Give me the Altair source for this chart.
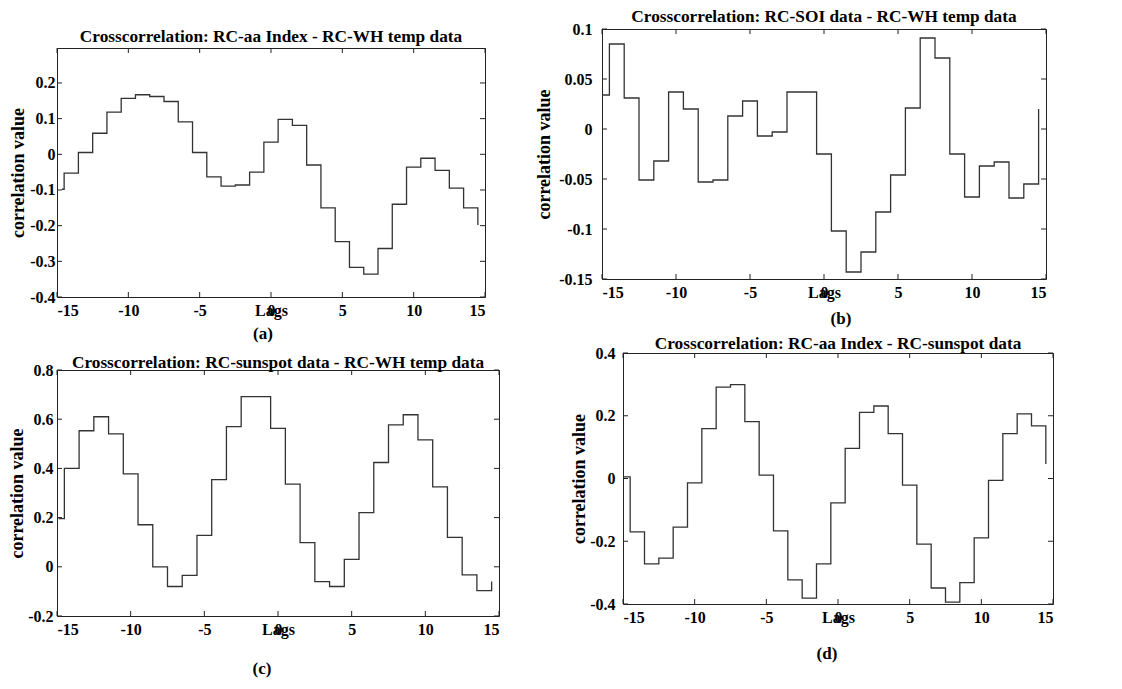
import altair as alt
import pandas as pd

SERIF = "Liberation Serif"
LINE_COLOR = "#333333"

# integer lags; each correlation value is drawn as a unit-wide step centred on its lag
LAGS = list(range(-14, 15))
X_TICKS = [-15, -10, -5, 0, 5, 10, 15]

# (a) RC-aa Index vs RC-WH temp
A_X0 = -14.65
A_START = -0.098
A_VALS = [-0.053, 0.005, 0.059, 0.118, 0.157, 0.167, 0.162, 0.148, 0.091, 0.005,
          -0.063, -0.089, -0.086, -0.050, 0.034, 0.098, 0.081, -0.030, -0.150, -0.245,
          -0.317, -0.336, -0.264, -0.140, -0.036, -0.011, -0.045, -0.095, -0.150]
A_END = -0.198
A_YTICKS = [-0.4, -0.3, -0.2, -0.1, 0, 0.1, 0.2]

# (b) RC-SOI vs RC-WH temp
B_X0 = -15.0
B_START = 0.034
B_VALS = [0.085, 0.031, -0.051, -0.032, 0.037, 0.020, -0.053, -0.051, 0.013, 0.028,
          -0.007, -0.003, 0.037, 0.037, -0.025, -0.102, -0.143, -0.123, -0.083, -0.046,
          0.021, 0.091, 0.071, -0.025, -0.068, -0.037, -0.033, -0.069, -0.055]
B_END = 0.020
B_YTICKS = [-0.15, -0.1, -0.05, 0, 0.05, 0.1]

# (c) RC-sunspot vs RC-WH temp
C_X0 = -14.89
C_START = 0.196
C_VALS = [0.400, 0.553, 0.610, 0.540, 0.378, 0.171, 0.000, -0.080, -0.035, 0.128,
          0.354, 0.570, 0.692, 0.692, 0.563, 0.336, 0.098, -0.060, -0.080, 0.030,
          0.220, 0.424, 0.577, 0.618, 0.516, 0.325, 0.120, -0.033, -0.097]
C_END = -0.060
C_YTICKS = [-0.2, 0, 0.2, 0.4, 0.6, 0.8]

# (d) RC-aa Index vs RC-sunspot
D_X0 = -15.0
D_START = 0.005
D_VALS = [-0.170, -0.272, -0.254, -0.155, -0.014, 0.159, 0.291, 0.299, 0.181, 0.011,
          -0.167, -0.323, -0.381, -0.272, -0.078, 0.096, 0.211, 0.231, 0.143, -0.021,
          -0.209, -0.349, -0.394, -0.332, -0.189, -0.006, 0.143, 0.206, 0.168]
D_END = 0.046
D_YTICKS = [-0.4, -0.2, 0, 0.2, 0.4]


def panel(x0, start, vals, end, title, ydom, yticks, w, h, caption, cap_x, cap_y,
          label_pad, title_pad, title_off):
    xs = [x0] + [k - 0.5 for k in LAGS] + [LAGS[-1] + 0.5]
    ys = [start] + vals + [end]
    df = pd.DataFrame({"lag": xs, "r": ys})
    xsc = alt.Scale(domain=[-15, 15], nice=False, zero=False)
    ysc = alt.Scale(domain=ydom, nice=False, zero=False)

    line = alt.Chart(df).mark_line(
        interpolate="step-after", color=LINE_COLOR, strokeWidth=1.3
    ).encode(
        x=alt.X("lag:Q", scale=xsc, axis=alt.Axis(
            values=X_TICKS, labelExpr="'' + datum.value", ticks=False, tickSize=0,
            domain=False, grid=False, labelPadding=5, labelFont=SERIF,
            labelFontSize=16, labelFontWeight="bold", labelColor="#000",
            title="Lags", titleFont=SERIF, titleFontSize=16, titleFontWeight="bold",
            titleColor="#000", titleY=5, titleBaseline="top")),
        y=alt.Y("r:Q", scale=ysc, axis=alt.Axis(
            values=yticks, labelExpr="'' + datum.value", ticks=False, tickSize=0,
            domain=False, grid=False, labelPadding=label_pad, labelFont=SERIF,
            labelFontSize=16, labelFontWeight="bold", labelColor="#000",
            title="correlation value", titleFont=SERIF, titleFontSize=18,
            titleFontWeight="bold", titleColor="#000", titlePadding=title_pad)),
    )

    ydf = pd.DataFrame({"r": yticks})
    xdf = pd.DataFrame({"lag": X_TICKS})
    yl = alt.Chart(ydf).mark_rule(color="#222", strokeWidth=1).encode(
        y=alt.Y("r:Q", scale=ysc), x=alt.value(0), x2=alt.value(5))
    yr = alt.Chart(ydf).mark_rule(color="#222", strokeWidth=1).encode(
        y=alt.Y("r:Q", scale=ysc), x=alt.value(w - 5), x2=alt.value(w))
    xb = alt.Chart(xdf).mark_rule(color="#222", strokeWidth=1).encode(
        x=alt.X("lag:Q", scale=xsc), y=alt.value(h - 5), y2=alt.value(h))
    xt = alt.Chart(xdf).mark_rule(color="#222", strokeWidth=1).encode(
        x=alt.X("lag:Q", scale=xsc), y=alt.value(0), y2=alt.value(5))

    cap = alt.Chart(pd.DataFrame({"t": [caption]})).mark_text(
        font=SERIF, fontSize=17, fontWeight="bold", color="#000", baseline="middle"
    ).encode(text="t:N", x=alt.value(cap_x), y=alt.value(cap_y))

    ttl = alt.TitleParams(
        text=title, font=SERIF, fontSize=17.3, fontWeight="bold", color="#000",
        offset=title_off, anchor="middle")
    return alt.layer(line, yl, yr, xb, xt, cap).properties(
        width=w, height=h, title=ttl,
        view=alt.ViewBackground(stroke="#222", strokeWidth=1))


def spacer(h):
    # invisible block that pushes the panel below it downwards
    return alt.Chart(pd.DataFrame({"v": [0]})).mark_point(size=1, opacity=0).properties(
        width=10, height=h, view=alt.ViewBackground(stroke="transparent"))


pa = panel(A_X0, A_START, A_VALS, A_END,
           "Crosscorrelation: RC-aa Index - RC-WH temp data",
           [-0.4, 0.298], A_YTICKS, 428, 249, "(a)", 206, 286, 2, 2, 2)
pb = panel(B_X0, B_START, B_VALS, B_END,
           "Crosscorrelation: RC-SOI data - RC-WH temp data",
           [-0.15, 0.1], B_YTICKS, 444, 250, "(b)", 239, 290, 10, 5, -4)
pc = panel(C_X0, C_START, C_VALS, C_END,
           "Crosscorrelation: RC-sunspot data - RC-WH temp data",
           [-0.2, 0.8], C_YTICKS, 442, 246, "(c)", 205, 299, 4, 1, -9)
pd_ = panel(D_X0, D_START, D_VALS, D_END,
            "Crosscorrelation: RC-aa Index - RC-sunspot data",
            [-0.4, 0.4], D_YTICKS, 430, 251, "(d)", 204, 301, 8, 1, -7)

wa = alt.vconcat(spacer(1), pa, spacing=-4)
wb = alt.hconcat(pb)
wc = alt.vconcat(spacer(1), pc, spacing=-2)
wd = alt.hconcat(pd_)

row1 = alt.hconcat(wa, wb, spacing=49)
row2 = alt.hconcat(wc, wd, spacing=70)
chart = alt.vconcat(row1, row2, spacing=-9).properties(
    padding={"left": 0, "top": -1, "right": 5, "bottom": 0}
).configure_view(stroke="transparent").configure(background="white")

chart.save("out.html", embed_options={"renderer": "svg", "actions": False})
